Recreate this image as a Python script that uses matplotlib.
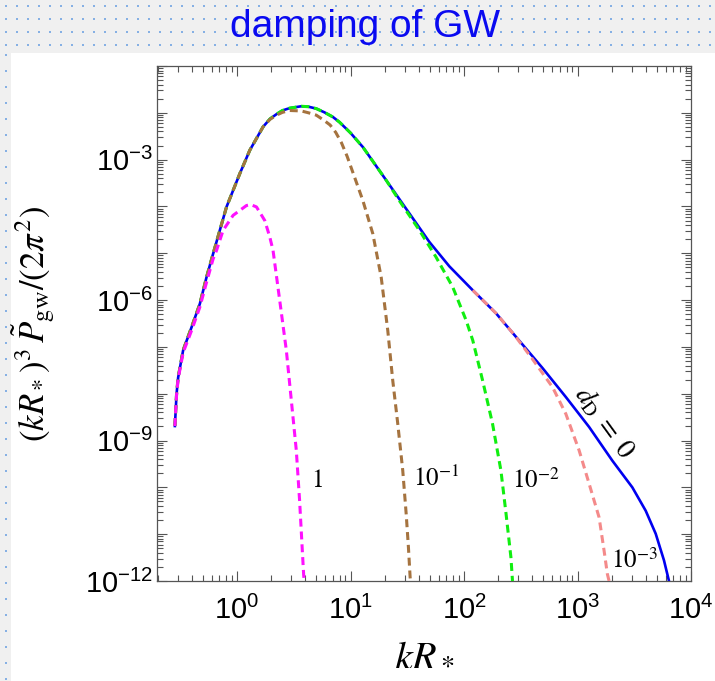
import numpy as np
import matplotlib
matplotlib.use("Agg")
import matplotlib.pyplot as plt
from matplotlib.patches import Rectangle
from matplotlib.ticker import FixedLocator, LogLocator, FuncFormatter, NullFormatter

plt.rcParams['font.family'] = ['Liberation Sans', 'DejaVu Sans']
plt.rcParams['mathtext.fontset'] = 'stix'

# values, stored as log10(kR*) and log10(spectrum)
blue_logk = [-0.548, -0.533, -0.519, -0.475, -0.401, -0.328, -0.269, -0.211, -0.093,
             0.024, 0.112, 0.229, 0.290, 0.347, 0.400, 0.463, 0.566, 0.630, 0.698,
             0.770, 0.845, 0.903, 1.000, 1.108, 1.314, 1.490, 1.695, 1.871, 2.077,
             2.281, 2.442, 2.691, 2.897, 3.102, 3.307, 3.483, 3.601, 3.689, 3.762,
             3.806]
blue_logP = [-8.69, -8.00, -7.65, -7.07, -6.58, -6.08, -5.51, -5.01, -4.01,
             -3.30, -2.80, -2.30, -2.13, -2.03, -1.95, -1.90, -1.86, -1.87, -1.91,
             -1.99, -2.09, -2.20, -2.43, -2.73, -3.44, -4.05, -4.76, -5.28, -5.79,
             -6.28, -6.74, -7.45, -8.07, -8.71, -9.43, -10.00, -10.50, -10.99, -11.56,
             -12.00]

# d_D = 1e-3
pink_logk = [2.077, 2.281, 2.442, 2.600, 2.780, 2.897, 3.014, 3.102, 3.190, 3.234,
             3.263, 3.278]
pink_logP = [-5.79, -6.28, -6.74, -7.25, -7.86, -8.43, -9.21, -9.92, -10.64, -11.35,
             -11.85, -12.00]

# d_D = 1e-2
green_logk = [-0.548, -0.533, -0.519, -0.475, -0.401, -0.328, -0.269, -0.211, -0.093,
              0.024, 0.112, 0.229, 0.290, 0.347, 0.400, 0.463, 0.566, 0.630, 0.698,
              0.770, 0.845, 0.903, 1.000, 1.108, 1.314, 1.431, 1.607, 1.753, 1.900,
              2.018, 2.077, 2.164, 2.251, 2.325, 2.370, 2.413, 2.427]
green_logP = [-8.69, -8.00, -7.65, -7.07, -6.58, -6.08, -5.51, -5.01, -4.01,
              -3.30, -2.80, -2.30, -2.13, -2.03, -1.95, -1.90, -1.86, -1.87, -1.91,
              -1.99, -2.09, -2.20, -2.43, -2.73, -3.44, -3.88, -4.51, -5.08, -5.72,
              -6.43, -6.86, -7.72, -8.64, -9.64, -10.56, -11.49, -12.00]

# d_D = 1e-1
brown_logk = [-0.548, -0.533, -0.519, -0.475, -0.401, -0.328, -0.269, -0.211, -0.093,
              0.024, 0.112, 0.229, 0.290, 0.347, 0.400, 0.463, 0.566, 0.630, 0.698,
              0.760, 0.820, 0.870, 0.920, 0.970, 1.020, 1.108, 1.196, 1.270, 1.328,
              1.372, 1.416, 1.460, 1.490, 1.510, 1.525, 1.528]
brown_logP = [-8.69, -8.00, -7.65, -7.07, -6.58, -6.08, -5.51, -5.01, -4.01,
              -3.30, -2.80, -2.30, -2.14, -2.05, -1.99, -1.95, -1.96, -2.00, -2.05,
              -2.15, -2.26, -2.42, -2.64, -2.93, -3.27, -3.87, -4.58, -5.51, -6.65,
              -7.72, -8.64, -9.64, -10.56, -11.28, -11.92, -12.00]

# d_D = 1
magenta_logk = [-0.548, -0.533, -0.519, -0.475, -0.401, -0.328, -0.269, -0.211, -0.181,
                -0.123, -0.035, 0.083, 0.120, 0.171, 0.244, 0.288, 0.317, 0.376,
                0.434, 0.478, 0.522, 0.551, 0.575, 0.587, 0.592]
magenta_logP = [-8.69, -8.02, -7.68, -7.12, -6.65, -6.15, -5.62, -5.12, -4.94,
                -4.51, -4.19, -3.98, -3.96, -4.01, -4.30, -4.65, -4.94, -6.01,
                -7.07, -8.14, -9.21, -10.28, -11.35, -11.88, -12.00]

curve_labels = [r'$1$', r'$10^{-1}$', r'$10^{-2}$', r'$10^{-3}$']
label_logk = [0.654, 1.548, 2.427, 3.293]
label_logP = [-9.85, -9.81, -9.85, -11.56]

fig = plt.figure(figsize=(7.15, 6.81), dpi=100)

# slide background: grey band with dotted grid
bg = fig.add_axes([0, 0, 1, 1], zorder=-10)
bg.set_xlim(0, 715)
bg.set_ylim(681, 0)
bg.axis('off')
bg.add_patch(Rectangle((0, 0), 715, 53, color='#f0f0f0', lw=0))
bg.add_patch(Rectangle((0, 0), 11, 681, color='#f0f0f0', lw=0))
gx, gy = np.meshgrid(np.arange(6, 715, 11), [6, 19, 32, 45])
bg.scatter(gx.ravel(), gy.ravel(), s=3, marker='s', c='#86b0e4', lw=0)
ly = np.arange(55, 681, 16)
bg.scatter(np.full(len(ly), 6), ly, s=3, marker='s', c='#86b0e4', lw=0)
bg.text(365, 37, 'damping of GW', color='#0a0af0', fontsize=28,
        ha='center', va='baseline')

ax = fig.add_axes([157 / 715, 1 - 581 / 681, 534 / 715, 515 / 681])
ax.set_xscale('log')
ax.set_yscale('log')

def pts(lk, lp):
    return 10.0 ** np.array(lk), 10.0 ** np.array(lp)

ax.plot(*pts(blue_logk, blue_logP), color='#0000f0', lw=1.9, zorder=2)
dash = dict(lw=2.2, dashes=(2.6, 1.6), zorder=3)
ax.plot(*pts(pink_logk, pink_logP), color='#f48a8a', **dash)
ax.plot(*pts(green_logk, green_logP), color='#10ee10', **dash)
ax.plot(*pts(brown_logk, brown_logP), color='#a5733f', **dash)
ax.plot(*pts(magenta_logk, magenta_logP), color='#ff10ff', **dash)

for lab, lk, lp in zip(curve_labels, label_logk, label_logP):
    ax.text(10 ** lk, 10 ** lp, lab, fontsize=18, ha='left', va='center')
ax.text(10 ** 3.235, 10 ** -8.62, r'$d_{\rm D}\;=\;0$', fontsize=20, rotation=-54,
        rotation_mode='anchor', ha='center', va='center')

ax.set_xlim(0.197, 1e4)
ax.set_ylim(1e-12, 1e-1)

ax.xaxis.set_major_locator(FixedLocator(10.0 ** np.arange(0, 5)))
ax.xaxis.set_minor_locator(LogLocator(base=10, subs=np.arange(2, 10), numticks=100))
ax.xaxis.set_minor_formatter(NullFormatter())
ax.yaxis.set_major_locator(FixedLocator(10.0 ** np.arange(-12, 0)))
ax.yaxis.set_minor_locator(LogLocator(base=10, subs=np.arange(2, 10), numticks=100))
ax.yaxis.set_minor_formatter(NullFormatter())

def xfmt(v, pos):
    return r'$\mathdefault{10^{%d}}$' % round(np.log10(v))

def yfmt(v, pos):
    e = round(np.log10(v))
    if e % 3 == 0:
        return r'$\mathdefault{10^{%d}}$' % e
    return ''

ax.xaxis.set_major_formatter(FuncFormatter(xfmt))
ax.yaxis.set_major_formatter(FuncFormatter(yfmt))

ax.tick_params(which='both', direction='in', top=True, right=True,
               color='#555555', width=0.8, labelsize=21)
ax.tick_params(which='major', length=7)
ax.tick_params(which='minor', length=4.3)
ax.tick_params(axis='x', pad=11)
ax.tick_params(axis='y', pad=3)
for s in ax.spines.values():
    s.set_color('#555555')
    s.set_linewidth(0.9)

ax.set_xlabel(r'$kR_*$', fontsize=29)
ax.xaxis.set_label_coords(0.5, -0.105)
ax.set_ylabel(r'$(kR_*)^3\,\tilde{P}_{\rm gw}/(2\pi^2)$', fontsize=25)
ax.yaxis.set_label_coords(-0.19, 0.5)

fig.savefig('out.png', dpi=100)
